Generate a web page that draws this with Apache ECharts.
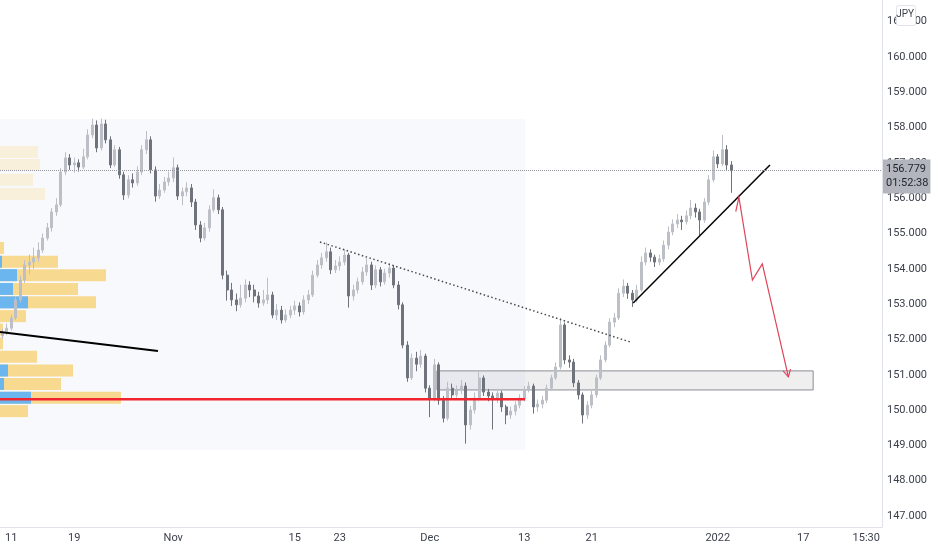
<!DOCTYPE html>
<html>
<head>
<meta charset="utf-8">
<script src="https://cdn.jsdelivr.net/npm/echarts@6/dist/echarts.min.js"></script>
<style>
  html, body { margin: 0; padding: 0; background: #ffffff; }
  #chart { width: 932px; height: 550px; }
</style>
</head>
<body>
<div id="chart"></div>
<script>
// slots on the time axis (candles + empty future space)
var slotCount = 196;
var tickSlots = [2, 16, 38, 65, 75, 95, 116, 131, 159, 178, 192];
var tickLabels = ['11', '19', 'Nov', '15', '23', 'Dec', '13', '21', '2022', '17', '15:30'];

// price candles
var opens = [152.10,152.21,152.32,152.61,153.12,153.68,154.11,154.19,154.31,154.53,
  154.87,155.16,155.61,155.81,156.74,157.14,156.94,157.00,156.88,157.17,
  157.79,158.07,157.42,158.10,157.65,156.94,157.37,156.66,156.09,156.52,
  156.43,156.74,157.37,157.65,156.80,156.06,156.23,156.46,156.57,156.86,
  156.06,156.18,156.29,155.89,155.24,154.87,155.16,155.67,156.01,155.67,
  153.82,153.40,153.12,152.98,153.17,153.54,153.40,153.23,153.03,153.12,
  153.26,152.69,152.83,152.55,152.69,152.83,152.95,152.78,153.12,153.26,
  153.82,154.11,154.31,154.48,153.97,154.08,154.19,154.39,153.23,153.40,
  153.63,153.91,154.11,153.54,153.97,153.63,153.88,154.02,153.54,152.98,
  151.84,150.91,151.47,151.30,151.53,150.62,150.34,151.28,150.28,149.77,
  150.62,150.43,150.57,150.68,149.58,150.00,150.34,150.91,150.51,150.40,
  150.31,150.48,150.09,149.86,149.97,150.14,150.34,150.57,150.68,150.09,
  150.17,150.28,150.62,150.91,151.22,152.41,151.42,151.36,150.77,150.43,
  149.86,150.14,150.43,150.91,151.42,151.84,152.49,152.61,153.31,153.51,
  153.31,153.12,153.40,154.19,154.45,154.33,154.19,154.28,154.67,155.04,
  155.27,155.38,155.33,155.50,155.72,155.61,155.38,155.89,156.52,157.17,
  156.97,157.37,156.94];
var closes = [152.21,152.32,152.61,153.12,153.68,154.11,154.19,154.31,154.53,154.87,
  155.16,155.61,155.81,156.74,157.14,156.94,157.00,156.88,157.17,157.79,
  158.07,157.42,158.10,157.65,156.94,157.37,156.66,156.09,156.52,156.43,
  156.74,157.37,157.65,156.80,156.06,156.23,156.46,156.57,156.86,156.06,
  156.18,156.29,155.89,155.24,154.87,155.16,155.67,156.01,155.67,153.82,
  153.40,153.12,152.98,153.17,153.54,153.40,153.23,153.03,153.12,153.26,
  152.69,152.83,152.55,152.69,152.83,152.95,152.78,153.12,153.26,153.82,
  154.11,154.31,154.48,153.97,154.08,154.19,154.39,153.23,153.40,153.63,
  153.91,154.11,153.54,153.97,153.63,153.88,154.02,153.54,152.98,151.84,
  150.91,151.47,151.30,151.53,150.62,150.34,151.28,150.28,149.77,150.62,
  150.43,150.57,150.68,149.58,150.00,150.34,150.91,150.51,150.40,150.31,
  150.48,150.09,149.86,149.97,150.14,150.34,150.57,150.68,150.09,150.17,
  150.28,150.62,150.91,151.22,152.41,151.42,151.36,150.77,150.43,149.86,
  150.14,150.43,150.91,151.42,151.84,152.49,152.61,153.31,153.51,153.31,
  153.12,153.40,154.19,154.45,154.33,154.19,154.28,154.67,155.04,155.27,
  155.38,155.33,155.50,155.72,155.61,155.38,155.89,156.52,157.17,156.97,
  157.37,156.94,156.779];
var lows = [152.02,152.12,152.25,152.55,153.05,153.60,153.85,154.00,154.20,154.45,
  154.80,155.05,155.50,155.75,156.65,156.80,156.72,156.75,156.82,157.10,
  157.70,157.30,157.35,157.55,156.85,156.88,156.55,155.95,156.00,156.30,
  156.35,156.65,157.25,156.70,155.90,155.98,156.15,156.35,156.45,155.95,
  155.80,156.05,155.75,155.10,154.75,154.80,155.05,155.60,155.55,153.70,
  153.10,152.95,152.80,152.90,153.05,153.20,153.05,152.90,152.95,153.00,
  152.60,152.55,152.45,152.48,152.60,152.70,152.65,152.70,153.00,153.20,
  153.75,154.00,154.20,153.85,153.88,153.95,154.10,152.90,153.10,153.30,
  153.55,153.80,153.40,153.45,153.50,153.55,153.75,153.45,152.85,151.75,
  150.80,150.85,151.10,151.20,150.50,149.80,150.25,150.15,149.65,149.70,
  150.30,150.35,150.45,149.05,149.45,149.90,150.25,150.40,150.25,149.45,
  150.20,149.95,149.60,149.75,149.85,150.05,150.25,150.50,149.90,149.95,
  150.05,150.20,150.55,150.85,151.15,151.30,151.20,150.65,150.30,149.62,
  149.75,150.05,150.35,150.85,151.35,151.78,152.35,152.55,153.20,153.15,
  152.92,153.05,153.35,154.10,154.20,154.05,154.10,154.20,154.55,154.95,
  155.15,155.10,155.25,155.40,155.45,154.95,155.30,155.80,156.45,156.85,
  156.90,156.80,156.15];
var highs = [152.30,152.45,152.70,153.22,153.80,154.25,154.40,154.60,154.75,155.00,
  155.30,155.72,156.00,156.85,157.30,157.25,157.15,157.10,157.40,157.95,
  158.25,158.20,158.25,158.22,157.75,157.50,157.45,156.75,156.65,156.70,
  156.90,157.50,157.90,157.75,156.90,156.40,156.60,156.75,157.15,156.95,
  156.30,156.45,156.40,155.98,155.35,155.30,155.80,156.25,156.10,155.75,
  153.95,153.60,153.30,153.55,153.70,153.65,153.55,153.35,153.40,153.75,
  153.35,153.00,152.95,152.85,152.95,153.10,153.05,153.25,153.40,153.95,
  154.25,154.45,154.75,154.60,154.25,154.35,154.55,154.45,153.55,153.75,
  154.05,154.30,154.20,154.10,154.05,154.00,154.15,154.10,153.65,153.05,
  151.95,151.60,151.65,151.70,151.60,150.70,151.45,151.35,150.40,150.80,
  150.75,150.70,150.85,150.78,150.12,150.50,151.10,150.98,150.60,150.50,
  150.60,150.55,150.15,150.10,150.25,150.45,150.68,150.80,150.75,150.30,
  150.40,150.72,151.00,151.35,152.61,152.48,151.55,151.45,150.85,150.50,
  150.25,150.55,151.00,151.55,151.95,152.60,152.75,153.45,153.70,153.60,
  153.40,153.55,154.35,154.60,154.55,154.40,154.40,154.80,155.20,155.40,
  155.55,155.50,155.65,155.95,155.85,155.70,156.00,156.65,157.35,157.25,
  157.79,157.50,157.05];

var lastPrice = 156.779;
var countdown = '01:52:38';
var currency = 'JPY';

// volume profile rows on the left
var profilePrices = [154.59, 154.20, 153.82, 153.43, 153.05, 152.66, 152.28, 151.89, 151.51, 151.12, 150.74, 150.35, 149.97];
var profileTotal  = [4, 58, 106, 78, 96, 26, 3, 3, 37, 73, 61, 121, 28];
var profileBlue   = [0, 2, 17, 13, 28, 0, 0, 0, 0, 8, 4, 31, 0];
var fadedPrices = [157.31, 156.94, 156.52, 156.12];
var fadedTotal  = [38, 40, 33, 45];
var profileRowHeight = 0.34;

// drawings, in [slot, price]
var shadeBox     = [[-0.5, 158.24], [116.2, 148.87]];
var zoneBox      = [[96.6, 151.11], [180.2, 150.57]];
var supportLine  = [[-0.5, 152.21], [34.6, 151.67]];
var redLevel     = [[-0.5, 150.31], [116.2, 150.31]];
var dottedTrend  = [[70.6, 154.76], [139.5, 151.93]];
var risingTrend  = [[140.2, 153.03], [170.6, 156.94]];
var arrowPath    = [[163.0, 155.62], [163.7, 156.03], [166.7, 153.68], [168.9, 154.14], [174.7, 150.94]];

var fontFam = 'Roboto, sans-serif';

var categories = [];
for (var i = 0; i < slotCount; i++) categories.push('s' + i);

var candles = [];
for (var i = 0; i < closes.length; i++) {
  candles.push([opens[i], closes[i], lows[i], highs[i]]);
}

var profileData = [];
for (var i = 0; i < profilePrices.length; i++) {
  profileData.push([profileTotal[i], profileBlue[i], profilePrices[i]]);
}
var fadedData = [];
for (var i = 0; i < fadedPrices.length; i++) {
  fadedData.push([fadedTotal[i], 0, fadedPrices[i]]);
}

function lineSeries(points, style, z, arrow) {
  return {
    type: 'custom',
    xAxisIndex: 1,
    yAxisIndex: 0,
    z: z,
    silent: true,
    data: [[0, lastPrice]],
    renderItem: function (params, api) {
      var pts = points.map(function (p) { return api.coord(p); });
      var children = [{ type: 'polyline', shape: { points: pts }, style: style }];
      if (arrow) {
        var a = pts[pts.length - 2], b = pts[pts.length - 1];
        var ang = Math.atan2(b[1] - a[1], b[0] - a[0]);
        var len = 8, spread = 0.5;
        children.push({ type: 'polyline', shape: { points: [
          [b[0] - len * Math.cos(ang - spread), b[1] - len * Math.sin(ang - spread)],
          b,
          [b[0] - len * Math.cos(ang + spread), b[1] - len * Math.sin(ang + spread)]
        ] }, style: style });
      }
      return { type: 'group', children: children };
    }
  };
}

function boxSeries(box, style, z) {
  return {
    type: 'custom',
    xAxisIndex: 1,
    yAxisIndex: 0,
    z: z,
    silent: true,
    data: [[0, lastPrice]],
    renderItem: function (params, api) {
      var p1 = api.coord(box[0]), p2 = api.coord(box[1]);
      return {
        type: 'rect',
        shape: { x: p1[0], y: p1[1], width: p2[0] - p1[0], height: p2[1] - p1[1] },
        style: style
      };
    }
  };
}

function profileSeries(data, orange, blue, z) {
  return {
    type: 'custom',
    xAxisIndex: 2,
    yAxisIndex: 0,
    z: z,
    silent: true,
    encode: { x: [0, 1], y: 2 },
    data: data,
    renderItem: function (params, api) {
      var p = api.value(2);
      var tl = api.coord([0, p + profileRowHeight / 2]);
      var br = api.coord([api.value(0), p - profileRowHeight / 2]);
      var bb = api.coord([api.value(1), p - profileRowHeight / 2]);
      return { type: 'group', children: [
        { type: 'rect', shape: { x: tl[0], y: tl[1], width: br[0] - tl[0], height: br[1] - tl[1] }, style: { fill: orange } },
        { type: 'rect', shape: { x: tl[0], y: tl[1], width: bb[0] - tl[0], height: bb[1] - tl[1] }, style: { fill: blue } }
      ] };
    }
  };
}

var chart = echarts.init(document.getElementById('chart'));
chart.setOption({
  animation: false,
  backgroundColor: '#ffffff',
  grid: { left: 0, right: 50, top: 0, bottom: 23 },
  xAxis: [
    {
      type: 'category',
      data: categories,
      boundaryGap: true,
      axisLine: { show: true, onZero: false, lineStyle: { color: '#e0e3eb' } },
      axisTick: { show: false },
      splitLine: { show: false },
      axisLabel: {
        interval: function (idx) { return tickSlots.indexOf(idx) >= 0; },
        formatter: function (v, idx) {
          var k = tickSlots.indexOf(idx);
          return k >= 0 ? tickLabels[k] : '';
        },
        color: '#3b3f4a',
        fontSize: 11,
        fontFamily: fontFam,
        margin: 6
      }
    },
    { type: 'value', show: false, min: -0.5, max: slotCount - 0.5 },
    { type: 'value', show: false, min: 0, max: 882 }
  ],
  yAxis: [{
    type: 'value',
    position: 'right',
    min: 146.69,
    max: 161.61,
    splitNumber: 15,
    scale: true,
    axisLine: { show: true, onZero: false, lineStyle: { color: '#e0e3eb' } },
    axisTick: { show: false },
    splitLine: { show: false },
    axisLabel: {
      showMinLabel: false,
      showMaxLabel: false,
      formatter: function (v) { return v.toFixed(3); },
      color: '#3b3f4a',
      fontSize: 11,
      fontFamily: fontFam,
      margin: 5
    }
  }],
  series: [
    boxSeries(shadeBox, { fill: '#f8f9fd' }, 0),
    profileSeries(fadedData, 'rgba(248,217,144,0.3)', 'rgba(0,0,0,0)', 1),
    profileSeries(profileData, '#f8d990', '#6bb6ef', 1),
    boxSeries(zoneBox, { fill: 'rgba(120,123,134,0.12)', stroke: '#8a8d96', lineWidth: 1 }, 2),
    {
      type: 'candlestick',
      xAxisIndex: 0,
      yAxisIndex: 0,
      z: 3,
      barWidth: '60%',
      data: candles,
      itemStyle: {
        color: '#bcbfc6',
        color0: '#6f737c',
        borderColor: '#bcbfc6',
        borderColor0: '#6f737c',
        borderWidth: 1
      },
      markLine: {
        silent: true,
        symbol: ['none', 'none'],
        lineStyle: { type: 'dotted', color: '#9598a1', width: 1 },
        label: {
          position: 'end',
          distance: 1,
          formatter: lastPrice.toFixed(3) + '\n' + countdown,
          backgroundColor: '#b2b5bc',
          color: '#1e222d',
          fontSize: 11,
          lineHeight: 14,
          fontFamily: fontFam,
          padding: [3, 2, 3, 3],
          offset: [0, 6]
        },
        data: [{ yAxis: lastPrice }]
      }
    },
    lineSeries(supportLine, { stroke: '#000000', lineWidth: 2, fill: null }, 4),
    lineSeries(redLevel, { stroke: '#f0252f', lineWidth: 2.5, fill: null }, 4),
    lineSeries(dottedTrend, { stroke: '#4a4a4a', lineWidth: 1.5, lineDash: [1.5, 2.5], fill: null }, 4),
    lineSeries(risingTrend, { stroke: '#000000', lineWidth: 1.5, fill: null }, 4),
    lineSeries(arrowPath, { stroke: '#e0445a', lineWidth: 1.2, fill: null }, 4, true)
  ],
  graphic: [
    { type: 'rect', right: 16, top: 5, z: 100, shape: { width: 19, height: 20, r: 2 }, style: { fill: '#ffffff', stroke: '#e0e3eb', lineWidth: 1 } },
    { type: 'text', right: 18, top: 9, z: 101, style: { text: currency, fill: '#3b3f4a', fontSize: 10, fontFamily: fontFam } }
  ]
});
</script>
</body>
</html>
